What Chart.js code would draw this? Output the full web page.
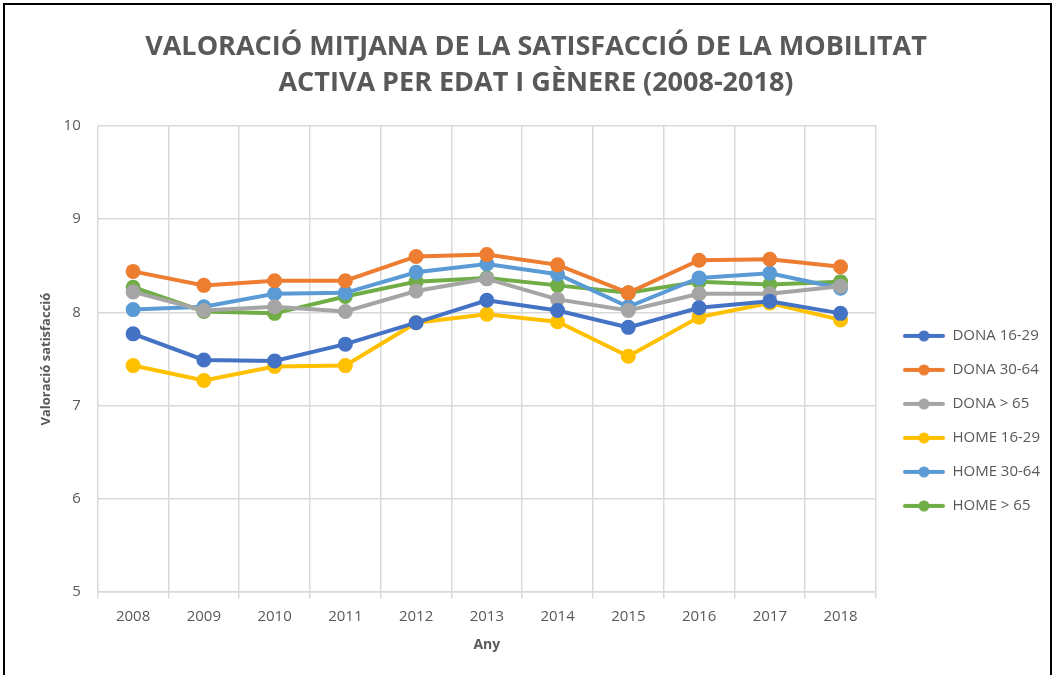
<!DOCTYPE html>
<html>
<head>
<meta charset="utf-8">
<script src="https://cdn.jsdelivr.net/npm/chart.js@4"></script>
<style>
  html, body { margin: 0; padding: 0; background: #fff; overflow: hidden; }
  #wrap { position: relative; width: 1054px; height: 675px; }
  #frame { position: absolute; left: 3px; top: 3px; width: 1045px; height: 690px; border: 2px solid #000; pointer-events: none; }
</style>
</head>
<body>
<div id="wrap">
  <canvas id="lineChart" width="1054" height="675"></canvas>
  <div id="frame"></div>
</div>
<script>
const years = ['2008', '2009', '2010', '2011', '2012', '2013', '2014', '2015', '2016', '2017', '2018'];
const dona1629 = [7.77, 7.49, 7.48, 7.66, 7.89, 8.13, 8.02, 7.84, 8.05, 8.12, 7.99];
const dona3064 = [8.44, 8.29, 8.34, 8.34, 8.60, 8.62, 8.51, 8.21, 8.56, 8.57, 8.49];
const donaMes65 = [8.22, 8.02, 8.06, 8.01, 8.23, 8.36, 8.14, 8.02, 8.20, 8.20, 8.28];
const home1629 = [7.43, 7.27, 7.42, 7.43, 7.89, 7.98, 7.90, 7.53, 7.95, 8.10, 7.92];
const home3064 = [8.03, 8.06, 8.20, 8.21, 8.43, 8.52, 8.41, 8.06, 8.37, 8.42, 8.26];
const homeMes65 = [8.27, 8.01, 7.99, 8.17, 8.33, 8.37, 8.29, 8.21, 8.33, 8.30, 8.33];
const yTicks = [5, 6, 7, 8, 9, 10];

const FONT = "'Open Sans', sans-serif";
const TXT = '#595959';

// legend marker: line with a dot, a bit of blank space on the left
function marker(color) {
    const c = document.createElement('canvas');
    c.width = 50; c.height = 12;
    const g = c.getContext('2d');
    g.strokeStyle = color; g.lineWidth = 4; g.lineCap = 'round';
    g.beginPath(); g.moveTo(10, 6); g.lineTo(48, 6); g.stroke();
    g.fillStyle = color;
    g.beginPath(); g.arc(29, 6, 5.5, 0, Math.PI * 2); g.fill();
    return c;
}

function serie(label, data, color) {
    return {
        label: label,
        data: data,
        borderColor: color,
        backgroundColor: color,
        borderWidth: 4,
        pointRadius: 5.5,
        pointHoverRadius: 6,
        pointStyle: 'circle',
        tension: 0
    };
}

const ctx = document.getElementById('lineChart').getContext('2d');
const satChart = new Chart(ctx, {
    type: 'line',
    data: {
        labels: years,
        datasets: [
            serie('DONA 16-29', dona1629, '#4472C4'),
            serie('DONA 30-64', dona3064, '#ED7D31'),
            serie('DONA > 65', donaMes65, '#A5A5A5'),
            serie('HOME 16-29', home1629, '#FFC000'),
            serie('HOME 30-64', home3064, '#5B9BD5'),
            serie('HOME > 65', homeMes65, '#70AD47')
        ]
    },
    options: {
        responsive: false,
        animation: false,
        layout: {padding: {left: 22, right: 4, top: 0, bottom: 22}},
        plugins: {
            title: {
                display: true,
                text: ['VALORACIÓ MITJANA DE LA SATISFACCIÓ DE LA MOBILITAT', 'ACTIVA PER EDAT I GÈNERE (2008-2018)'],
                color: TXT,
                font: {family: FONT, size: 27, weight: 'bold', lineHeight: 1.35},
                padding: {top: 29, bottom: 24}
            },
            legend: {
                position: 'right',
                align: 'start',
                title: {display: true, text: '', padding: {top: 295, bottom: 0}},
                labels: {
                    color: TXT,
                    font: {family: FONT, size: 15},
                    usePointStyle: true,
                    pointStyleWidth: 50,
                    padding: 19,
                    generateLabels: function (chart) {
                        const items = Chart.defaults.plugins.legend.labels.generateLabels(chart);
                        items.forEach(function (it, i) {
                            it.pointStyle = marker(chart.data.datasets[i].borderColor);
                        });
                        return items;
                    }
                }
            },
            tooltip: {enabled: false}
        },
        scales: {
            x: {
                offset: true,
                grid: {offset: true, color: '#d9d9d9', lineWidth: 1.5, tickLength: 6},
                border: {color: '#d9d9d9', width: 1.5},
                ticks: {color: TXT, font: {family: FONT, size: 15}, padding: 10},
                title: {display: true, text: 'Any', color: TXT, font: {family: FONT, size: 14, weight: 'bold'}, padding: {top: 0, bottom: 0}}
            },
            y: {
                min: 5,
                max: 10,
                afterBuildTicks: function (axis) {
                    axis.ticks = yTicks.map(function (v) { return {value: v}; });
                },
                grid: {color: '#d9d9d9', lineWidth: 1.5, drawTicks: false},
                border: {display: false},
                ticks: {color: TXT, font: {family: FONT, size: 15}, padding: 17},
                title: {display: true, text: 'Valoració satisfacció', color: TXT, font: {family: FONT, size: 13, weight: 'bold'}, padding: {top: 16, bottom: -7}}
            }
        }
    }
});
</script>
</body>
</html>
